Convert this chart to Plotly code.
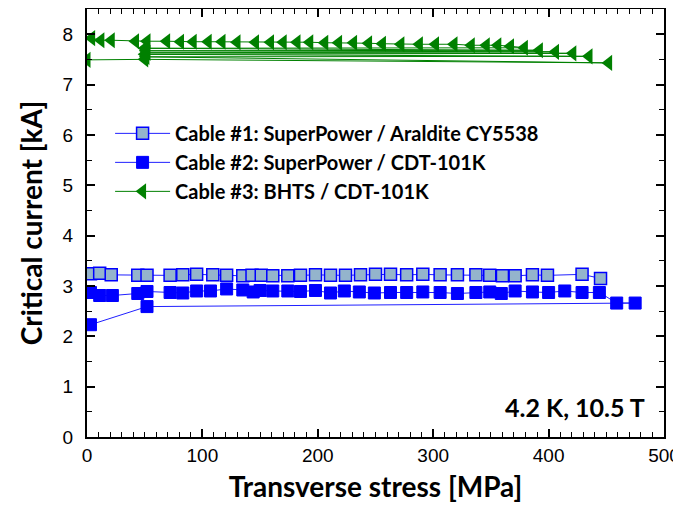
import plotly.graph_objects as go

# Cable #1: SuperPower / Araldite CY5538
c1_stress = [3, 11, 21, 44, 52, 72, 83, 95, 109, 121, 135, 143, 151, 161, 174, 185, 198, 211, 224, 237,
             250, 263, 277, 291, 306, 321, 337, 349, 360, 371, 386, 399, 429, 445]
c1_ic = [3.24, 3.25, 3.22, 3.21, 3.21, 3.21, 3.22, 3.23, 3.22, 3.21, 3.20, 3.21, 3.21, 3.20, 3.20, 3.21,
         3.22, 3.21, 3.21, 3.22, 3.23, 3.23, 3.22, 3.23, 3.22, 3.22, 3.22, 3.21, 3.20, 3.20, 3.22, 3.21,
         3.23, 3.15]

# Cable #2: SuperPower / CDT-101K
c2_stress = [3, 11, 22, 44, 52, 72, 83, 95, 107, 121, 135, 144, 150, 161, 174, 185, 198, 211, 223, 236,
             249, 263, 277, 291, 306, 321, 337, 349, 359, 371, 386, 400, 414, 429, 444, 459, 475, 52, 3]
c2_ic = [2.87, 2.81, 2.81, 2.85, 2.89, 2.87, 2.86, 2.90, 2.90, 2.94, 2.92, 2.88, 2.91, 2.90, 2.90, 2.89,
         2.91, 2.86, 2.90, 2.88, 2.86, 2.87, 2.87, 2.88, 2.87, 2.85, 2.87, 2.88, 2.85, 2.90, 2.88, 2.87,
         2.90, 2.87, 2.87, 2.66, 2.66, 2.59, 2.23]

# Cable #3: BHTS / CDT-101K (returns to ~50 MPa after the highest loads)
c3_stress = [4, 12, 21, 42, 52, 69, 81, 92, 105, 117, 130, 146, 159, 170, 182, 193, 206, 218, 231, 244,
             256, 272, 288, 302, 318, 333, 346, 356, 367,
             379, 50, 392, 51, 406, 52, 421, 50, 435, 51, 452, 50, 0]
c3_ic = [7.92, 7.88, 7.88, 7.86, 7.86, 7.86, 7.85, 7.85, 7.85, 7.85, 7.84, 7.84, 7.84, 7.84, 7.84, 7.84,
         7.83, 7.83, 7.83, 7.82, 7.81, 7.80, 7.80, 7.80, 7.80, 7.78, 7.78, 7.78, 7.76,
         7.73, 7.72, 7.68, 7.67, 7.65, 7.63, 7.62, 7.60, 7.56, 7.55, 7.43, 7.50, 7.49]

fig = go.Figure()
fig.add_trace(go.Scatter(
    x=c1_stress, y=c1_ic, mode='lines+markers',
    name='Cable #1: SuperPower / Araldite CY5538',
    line=dict(color='#2020ff', width=1),
    marker=dict(symbol='square', size=12, color='#94b4cc', line=dict(color='#0000ff', width=1.5))))
fig.add_trace(go.Scatter(
    x=c2_stress, y=c2_ic, mode='lines+markers',
    name='Cable #2: SuperPower / CDT-101K',
    line=dict(color='#2020ff', width=1),
    marker=dict(symbol='square', size=12, color='#0000ff', line=dict(color='#0000ff', width=1))))
fig.add_trace(go.Scatter(
    x=c3_stress, y=c3_ic, mode='lines+markers',
    name='Cable #3: BHTS / CDT-101K',
    line=dict(color='#008000', width=1),
    marker=dict(symbol='triangle-left', size=14, color='#008000')))

tickfont = dict(family='Liberation Sans, Arial', size=19, color='black')
titlefont = dict(family='Lato, sans-serif', size=28, color='black', weight='bold')

fig.update_xaxes(
    range=[0, 500], tickvals=[0, 100, 200, 300, 400, 500], ticks='inside', ticklen=8,
    tickcolor='black', tickwidth=1.5, showline=True, linecolor='black', linewidth=2,
    mirror='ticks', showgrid=False, zeroline=False, tickfont=tickfont, automargin=False,
    ticklabeloverflow='allow',
    minor=dict(dtick=10, ticks='inside', ticklen=5, tickcolor='black', tickwidth=1.2, showgrid=False),
    title=dict(text='Transverse stress [MPa]', font=titlefont, standoff=13))
fig.update_yaxes(
    range=[0, 8.5], dtick=1, ticks='inside', ticklen=8, ticklabelstandoff=8,
    tickcolor='black', tickwidth=1.5, showline=True, linecolor='black', linewidth=2,
    mirror='ticks', showgrid=False, zeroline=False, tickfont=tickfont, automargin=False,
    minor=dict(dtick=0.5, ticks='inside', ticklen=5, tickcolor='black', tickwidth=1.2, showgrid=False),
    title=dict(text='Critical current [kA]', font=titlefont, standoff=12))

fig.add_annotation(
    text='4.2 K, 10.5 T', xref='paper', yref='paper', x=0.97, y=0.07,
    xanchor='right', yanchor='middle', showarrow=False,
    font=dict(family='Lato, sans-serif', size=25, color='black', weight='bold'))

# page body adds an 8px offset, so the figure is sized to the visible area
fig.update_layout(
    width=673, height=497,
    margin=dict(l=79, r=17, t=1, b=68),
    plot_bgcolor='white', paper_bgcolor='white',
    legend=dict(x=0.04, y=0.755, xanchor='left', yanchor='top', bgcolor='rgba(0,0,0,0)',
                font=dict(family='Lato, sans-serif', size=20, color='black', weight='bold'),
                itemwidth=55, tracegroupgap=0),
)

fig.write_html("out.html")
